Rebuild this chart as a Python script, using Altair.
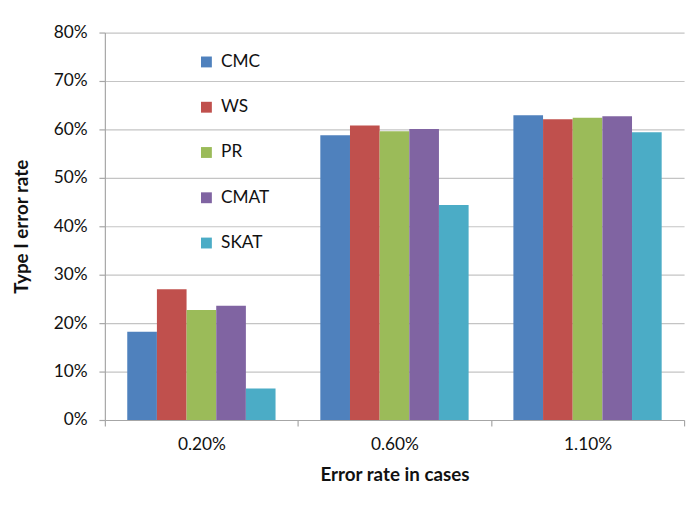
import altair as alt
import pandas as pd

categories = ["0.20%", "0.60%", "1.10%"]
methods = ["CMC", "WS", "PR", "CMAT", "SKAT"]
colors = ["#4F81BD", "#C0504D", "#9BBB59", "#8064A2", "#4BACC6"]
values = {
    "CMC":  [0.182, 0.588, 0.629],
    "WS":   [0.270, 0.608, 0.621],
    "PR":   [0.227, 0.596, 0.624],
    "CMAT": [0.236, 0.601, 0.627],
    "SKAT": [0.065, 0.444, 0.594],
}

rows = []
for m in methods:
    for c, v in zip(categories, values[m]):
        rows.append({"cat": c, "method": m, "value": v})
df = pd.DataFrame(rows)

FONT = "Lato"

chart = alt.Chart(df).mark_bar().encode(
    x=alt.X("cat:N", sort=categories,
            scale=alt.Scale(paddingInner=0, paddingOuter=0),
            axis=alt.Axis(title="Error rate in cases", labelAngle=0,
                          tickBand="extent", tickSize=6, labelPadding=10,
                          titleX=293, titleY=55, titleBaseline="middle",
                          titleAlign="center")),
    xOffset=alt.XOffset("method:N", sort=methods,
                        scale=alt.Scale(paddingInner=0, paddingOuter=0.755)),
    y=alt.Y("value:Q", scale=alt.Scale(domain=[0, 0.8]),
            axis=alt.Axis(title="Type I error rate", format=".0%",
                          values=[0, 0.1, 0.2, 0.3, 0.4, 0.5, 0.6, 0.7, 0.8],
                          tickSize=6, labelPadding=12, grid=True,
                          titleX=-84, titleY=196, titleAngle=270,
                          titleBaseline="middle", titleAlign="center")),
    color=alt.Color("method:N", sort=methods,
                    scale=alt.Scale(domain=methods, range=colors),
                    legend=alt.Legend(title=None, orient="none",
                                      legendX=94, legendY=21,
                                      symbolType="square", symbolSize=121,
                                      symbolStrokeWidth=0,
                                      labelFontSize=17.5, labelFont=FONT,
                                      labelColor="#111111", labelOffset=6,
                                      rowPadding=26.8, padding=0)),
).properties(
    width=586, height=392,
    autosize=alt.AutoSizeParams(type="none"),
    padding={"left": 98, "top": 22, "right": 6, "bottom": 70},
).configure_view(
    stroke=None
).configure_axis(
    labelFont=FONT, labelFontSize=17.5, labelColor="#111111",
    titleFont=FONT, titleFontSize=19, titleFontWeight="bold", titleColor="#111111",
    domainColor="#A6A6A6", tickColor="#A6A6A6", gridColor="#C4C4C4",
    gridWidth=1.2, domainWidth=1.2, tickWidth=1.2,
).configure_axisX(
    grid=False
)

chart.save("out.html", embed_options={"renderer": "svg", "actions": False})
